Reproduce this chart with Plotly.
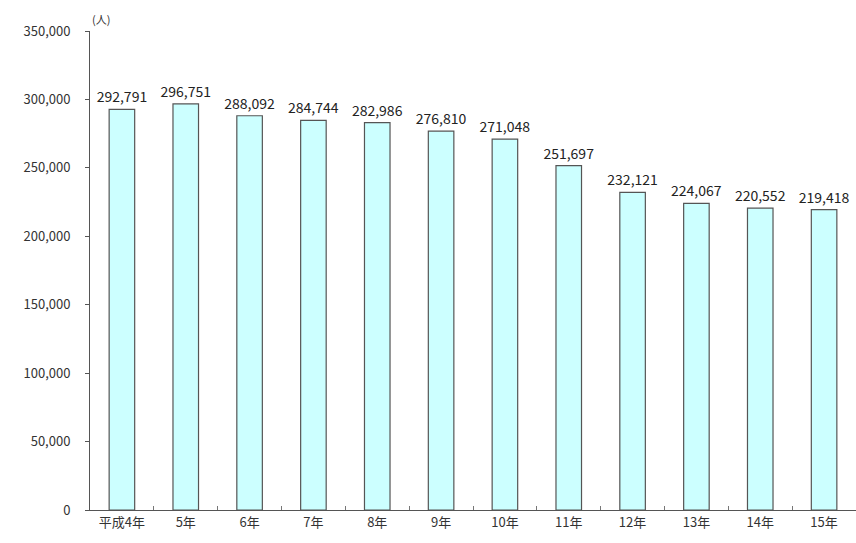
import plotly.graph_objects as go

categories = ["平成4年", "5年", "6年", "7年", "8年", "9年", "10年", "11年", "12年", "13年", "14年", "15年"]
values = [292791, 296751, 288092, 284744, 282986, 276810, 271048, 251697, 232121, 224067, 220552, 219418]
ytick_vals = [0, 50000, 100000, 150000, 200000, 250000, 300000, 350000]
ytick_text = ["0", "50,000", "100,000", "150,000", "200,000", "250,000", "300,000", "350,000"]

font_family = "Noto Sans CJK JP, Noto Sans, sans-serif"

fig = go.Figure(go.Bar(
    x=categories,
    y=values,
    text=[f"{v:,}" for v in values],
    textposition="outside",
    constraintext="none",
    textfont=dict(size=14, color="#222222", family=font_family),
    cliponaxis=False,
    marker=dict(color="#CCFFFF", line=dict(color="#555555", width=1.2)),
    width=0.4,
))

fig.update_layout(
    width=856, height=543,
    margin=dict(l=90, r=0, t=31, b=33),
    plot_bgcolor="white", paper_bgcolor="white",
    showlegend=False,
    font=dict(family=font_family, size=13, color="#333333"),
    annotations=[dict(text="(人)", xref="paper", yref="paper", x=0, y=1,
                      xanchor="left", yanchor="bottom", showarrow=False,
                      font=dict(size=11, color="#333333"), xshift=0, yshift=2)],
)
fig.update_yaxes(
    range=[0, 350000], tickvals=ytick_vals, ticktext=ytick_text,
    showgrid=False, showline=True, linecolor="#555555", linewidth=1,
    ticks="outside", ticklen=4, tickcolor="#555555",
    tickfont=dict(size=13, color="#333333"), ticklabelstandoff=12, zeroline=False,
)
fig.update_xaxes(
    showgrid=False, showline=True, linecolor="#555555", linewidth=1,
    ticks="inside", tickson="boundaries", ticklen=4, tickcolor="#777777",
    tickfont=dict(size=13, color="#333333"),
)

fig.write_html("out.html")
